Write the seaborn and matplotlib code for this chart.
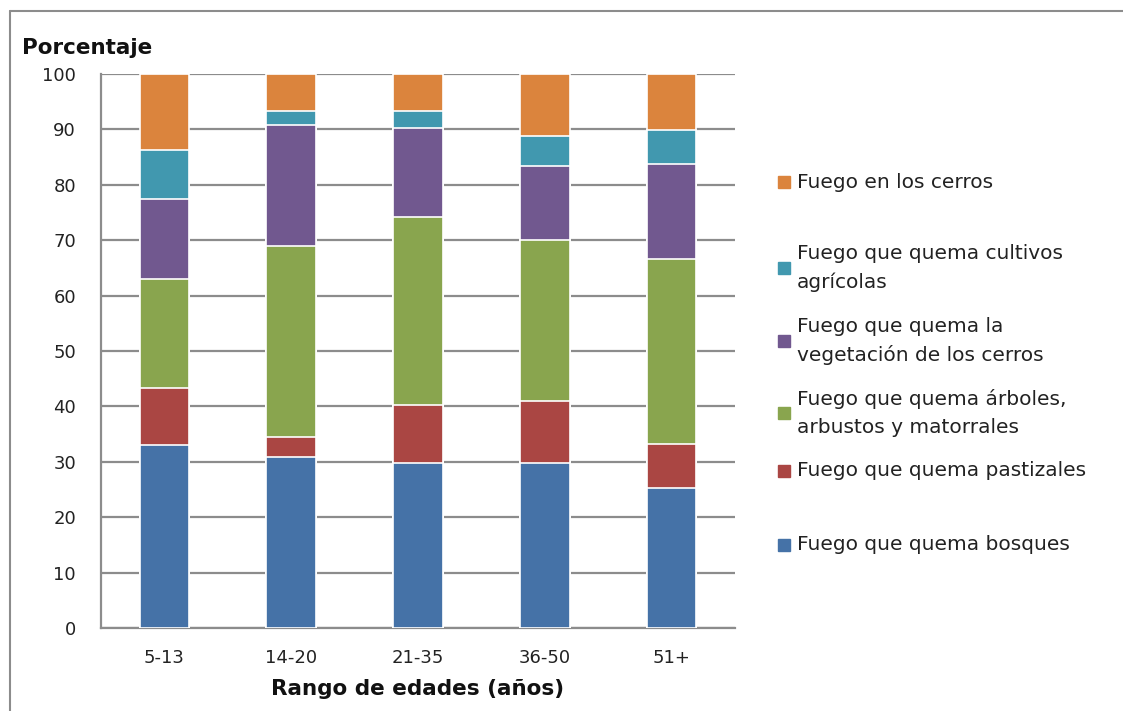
import matplotlib.pyplot as plt
import matplotlib.patches as mpatches
from matplotlib.lines import Line2D
import pandas as pd
import seaborn as sns

# Data (percent per age group, bottom to top)
edades = ['5-13', '14-20', '21-35', '36-50', '51+']
bosques = [33.0, 30.8, 29.7, 29.7, 25.2]
pastizales = [10.4, 3.6, 10.5, 11.2, 8.1]
arboles = [19.6, 34.6, 34.0, 29.1, 33.4]
vegetacion = [14.5, 21.8, 16.0, 13.4, 17.0]
cultivos = [8.7, 2.6, 3.2, 5.5, 6.2]
cerros = [13.8, 6.6, 6.6, 11.1, 10.1]

series = ['Fuego que quema bosques', 'Fuego que quema pastizales',
          'Fuego que quema árboles,\narbustos y matorrales',
          'Fuego que quema la\nvegetación de los cerros',
          'Fuego que quema cultivos\nagrícolas', 'Fuego en los cerros']
colores = ['#4572A7', '#AA4643', '#89A54E', '#71588F', '#4198AF', '#DB843D']

sns.set_theme(style='white')
plt.rcParams['font.family'] = ['DejaVu Sans']

df = pd.DataFrame({'edad': edades, 's0': bosques, 's1': pastizales, 's2': arboles,
                   's3': vegetacion, 's4': cultivos, 's5': cerros})
cols = ['s0', 's1', 's2', 's3', 's4', 's5']
cum = df[cols].cumsum(axis=1)

fig = plt.figure(figsize=(11.23, 7.11), dpi=100)
ax = fig.add_axes([0.0899, 0.1167, 0.5646, 0.7792])

# stacked bars: draw cumulative totals from top layer down
for i in range(5, -1, -1):
    sns.barplot(x=df['edad'], y=cum[cols[i]], color=colores[i], width=0.39,
                edgecolor='white', linewidth=1.2, saturation=1, ax=ax, zorder=3)

ax.set_ylim(0, 100)
ax.set_xlim(-0.5, 4.5)
ax.set_yticks(range(0, 101, 10))
ax.yaxis.grid(True, color='#8c8c8c', linewidth=1.6, zorder=0)
ax.set_axisbelow(True)
for s in ['top', 'right']:
    ax.spines[s].set_visible(False)
for s in ['left', 'bottom']:
    ax.spines[s].set_color('#8c8c8c')
    ax.spines[s].set_linewidth(1.6)

ax.set_xticks([-0.5, 0.5, 1.5, 2.5, 3.5, 4.5], minor=True)
ax.tick_params(axis='x', which='major', length=0, pad=15, labelsize=13, labelcolor='#222222')
ax.tick_params(axis='x', which='minor', length=6, width=1.6, color='#8c8c8c', direction='out')
ax.tick_params(axis='y', length=6, width=1.6, color='#8c8c8c', direction='out',
               labelsize=13, pad=12, labelcolor='#222222')
ax.set_xlabel('Rango de edades (años)', fontsize=15.5, fontweight='bold', labelpad=9,
              color='#111111')
ax.set_ylabel('')
fig.text(22 / 1123, 1 - 54 / 711, 'Porcentaje', fontsize=15.5, fontweight='bold',
         color='#111111')

# legend drawn manually (Excel-like irregular spacing)
ys = [545, 471, 413, 341, 268, 182]
for i in range(6):
    fig.add_artist(mpatches.Rectangle((778 / 1123, 1 - (ys[i] + 6) / 711), 12 / 1123, 12 / 711,
                                      transform=fig.transFigure, color=colores[i]))
    fig.text(797 / 1123, 1 - ys[i] / 711, series[i], fontsize=14.5, va='center',
             color='#222222', linespacing=1.55)

# outer frame
fig.add_artist(Line2D([10 / 1123, 1], [1 - 11 / 711, 1 - 11 / 711], color='#8c8c8c', lw=1.5))
fig.add_artist(Line2D([10 / 1123, 10 / 1123], [0, 1 - 11 / 711], color='#8c8c8c', lw=1.5))

fig.savefig('out.png', dpi=100)
